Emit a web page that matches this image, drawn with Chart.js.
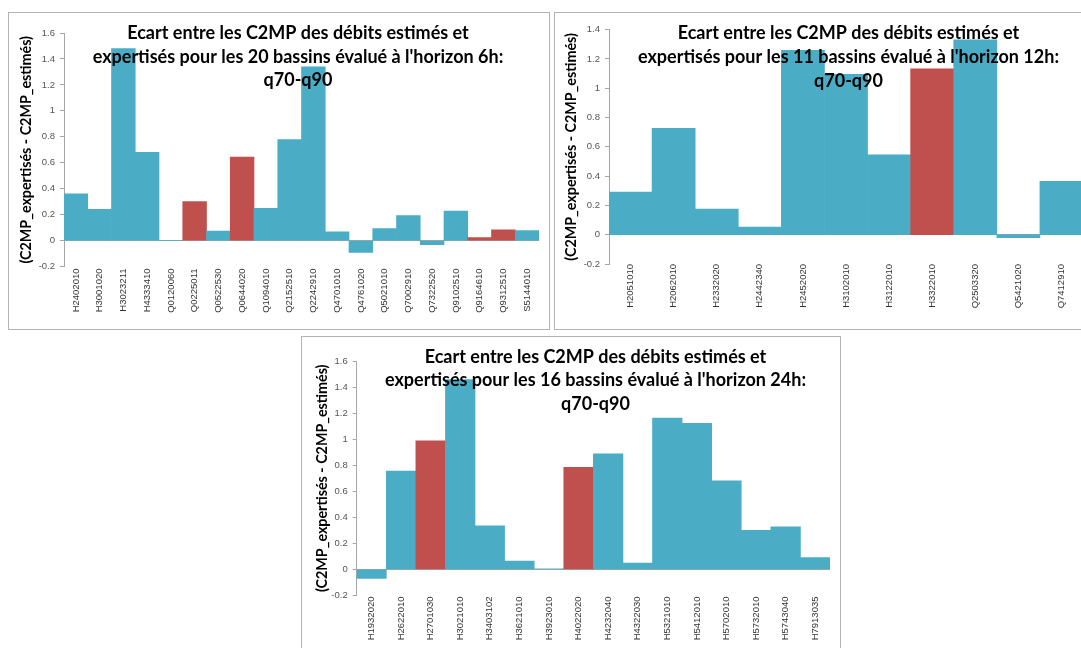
<!DOCTYPE html>
<html><head><meta charset="utf-8">
<script src="https://cdn.jsdelivr.net/npm/chart.js@4.4.1/dist/chart.umd.min.js"></script>
<style>
html,body{margin:0;padding:0;background:#fff;overflow:hidden;width:1081px;height:648px;position:relative;}
.box{position:absolute;border:1px solid #b3b3b3;box-sizing:border-box;}
canvas{position:absolute;}
</style></head><body>
<div class="box" style="left:8px;top:12px;width:542px;height:318px"></div>
<div class="box" style="left:554px;top:12px;width:560px;height:318px"></div>
<div class="box" style="left:301px;top:336px;width:540px;height:340px"></div>
<canvas id="c6" width="541" height="317" style="left:8px;top:12px"></canvas>
<canvas id="c12" width="540" height="317" style="left:554px;top:12px"></canvas>
<canvas id="c24" width="539" height="320" style="left:301px;top:336px"></canvas>
<script>
// ---------- DATA ----------
const categories6h = ['H2402010','H3001020','H3023211','H4333410','Q0120060','Q0225011','Q0522530','Q0644020','Q1094010','Q2152510','Q2242910','Q4701010','Q4761020','Q5021010','Q7002910','Q7322520','Q9102510','Q9164610','Q9312510','S5144010'];
const values6h = [0.36,0.24,1.48,0.68,0,0.30,0.074,0.643,0.248,0.778,1.339,0.067,-0.092,0.092,0.192,-0.031,0.228,0.023,0.082,0.077];
const highlighted6h = ['Q0225011','Q0644020','Q9164610','Q9312510'];

const categories12h = ['H2051010','H2062010','H2332020','H2442340','H2452020','H3102010','H3122010','H3322010','Q2503320','Q5421020','Q7412910'];
const values12h = [0.291,0.727,0.175,0.052,1.259,1.095,0.545,1.132,1.33,-0.02,0.364];
const highlighted12h = ['H3322010'];

const categories24h = ['H1932020','H2622010','H2701030','H3021010','H3403102','H3621010','H3923010','H4022020','H4232040','H4322030','H5321010','H5412010','H5702010','H5732010','H5743040','H7913035'];
const values24h = [-0.069,0.755,0.987,1.457,0.334,0.064,0.005,0.783,0.888,0.048,1.161,1.122,0.681,0.301,0.327,0.092];
const highlighted24h = ['H2701030','H4022020'];

const yRange6h = [-0.2, 1.6];
const yRange12h = [-0.2, 1.4];
const yRange24h = [-0.2, 1.6];
const yStep = 0.2;

const title6h = ['Ecart entre les C2MP des débits estimés et', "expertisés pour les 20 bassins évalué à l'horizon 6h:", 'q70-q90'];
const title12h = ['Ecart entre les C2MP des débits estimés et', "expertisés pour les 11 bassins évalué à l'horizon 12h:", 'q70-q90'];
const title24h = ['Ecart entre les C2MP des débits estimés et', "expertisés pour les 16 bassins évalué à l'horizon 24h:", 'q70-q90'];
const yAxisTitle = '(C2MP_expertisés - C2MP_estimés)';

// ---------- STYLE ----------
const BLUE = '#4BACC6', RED = '#C0504D', AXIS = '#a6a6a6';
Chart.defaults.animation = false;

const overTitle = {
  id: 'overTitle',
  afterDatasetsDraw(chart, args, o) {
    const ctx = chart.ctx;
    ctx.save();
    ctx.font = 'bold ' + o.size + 'px ' + o.family;
    ctx.fillStyle = '#000';
    ctx.textAlign = 'center';
    ctx.textBaseline = 'alphabetic';
    o.lines.forEach((line, i) => ctx.fillText(line, o.x, o.y + i * o.lineHeight));
    ctx.restore();
  }
};

function makeChart(id, categories, values, highlighted, yRange, titleLines, L) {
  return new Chart(document.getElementById(id), {
    type: 'bar',
    data: {
      labels: categories,
      datasets: [{
        data: values,
        backgroundColor: categories.map(c => highlighted.includes(c) ? RED : BLUE),
        borderWidth: 0,
        barPercentage: 1,
        categoryPercentage: 1
      }]
    },
    plugins: [overTitle],
    options: {
      responsive: false,
      animation: false,
      layout: { padding: { left: 0, top: L.top, right: L.right, bottom: 0 } },
      plugins: {
        legend: { display: false },
        tooltip: { enabled: false },
        overTitle: { lines: titleLines, x: L.titleX, y: L.titleY, lineHeight: 23.7, size: 18, family: 'Lato' }
      },
      scales: {
        x: {
          grid: { display: false, drawTicks: false },
          border: { display: false },
          ticks: { autoSkip: false, minRotation: 90, maxRotation: 90, padding: L.xPad,
                   color: '#333', font: { family: 'Liberation Sans', size: 9.5 } },
          afterFit(s) { s.height = L.xH; }
        },
        y: {
          min: yRange[0], max: yRange[1],
          ticks: { stepSize: yStep, padding: 5, color: '#555',
                   font: { family: 'Liberation Sans', size: 9.5 },
                   callback: v => String(Math.round(v * 10) / 10) },
          grid: {
            color: c => (c.tick && Math.abs(c.tick.value) < 1e-9) ? AXIS : 'rgba(0,0,0,0)',
            tickColor: AXIS, tickLength: 4, lineWidth: 1
          },
          border: { display: true, color: AXIS, width: 1 },
          title: { display: true, text: yAxisTitle, color: '#000',
                   font: { family: 'Lato', size: 14.3, weight: 'bold' },
                   padding: { top: L.yTitlePad, bottom: 0 } },
          afterFit(s) { s.width = L.yW; }
        }
      }
    }
  });
}

makeChart('c6', categories6h, values6h, highlighted6h, yRange6h, title6h,
  { top: 21, right: 10, xH: 62.5, yW: 56, xPad: 2, titleX: 290, titleY: 27, yTitlePad: 9.6 });
makeChart('c12', categories12h, values12h, highlighted12h, yRange12h, title12h,
  { top: 17.7, right: 11, xH: 65, yW: 55, xPad: 0, titleX: 294.5, titleY: 27.3, yTitlePad: 9.1 });
makeChart('c24', categories24h, values24h, highlighted24h, yRange24h, title24h,
  { top: 25, right: 10, xH: 60.5, yW: 55.7, xPad: 1, titleX: 294.5, titleY: 26.7, yTitlePad: 12.6 });
</script>
</body></html>
